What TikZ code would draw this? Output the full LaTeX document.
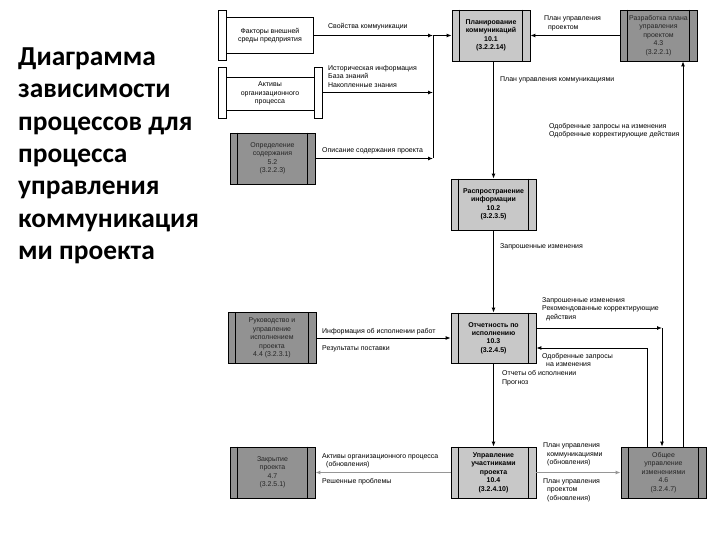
\documentclass[tikz,border=0pt]{standalone}
\usepackage{fontspec}
\setmainfont{Liberation Sans}
\newfontfamily\titlefont{Carlito}
\usetikzlibrary{arrows.meta,positioning}
\definecolor{procdark}{RGB}{146,146,146}
\definecolor{proclight}{RGB}{200,200,200}
\definecolor{flowgray}{RGB}{150,150,150}

\begin{document}
\begin{tikzpicture}[x=1bp,y=-1bp]
  \tikzstyle{proc}=[draw,line width=0.8bp,inner sep=0pt,align=center,
    font=\fontsize{7}{8.5}\selectfont]
  \tikzstyle{light}=[proc,fill=proclight,minimum width=85bp,minimum height=51bp,
    font=\fontsize{7}{8.5}\selectfont\bfseries]
  \tikzstyle{dark}=[proc,fill=procdark,minimum width=85bp,minimum height=51bp,text=black!85]
  \tikzstyle{bar}=[draw,fill=white,line width=0.6bp,minimum width=8bp,inner sep=0pt]
  \tikzstyle{lbl}=[font=\fontsize{7}{8.5}\selectfont,align=left,inner sep=0pt,anchor=west]
  \tikzstyle{line}=[line width=0.9bp]
  \tikzstyle{flow}=[line,-{Latex[length=5bp,width=4bp]}]
  \tikzstyle{upd}=[line width=1.3bp,draw=flowgray,-{Latex[length=5bp,width=4bp]}]
  \useasboundingbox (0,0) rectangle (720,540);

  % Title on the left
  \node[anchor=north west,inner sep=0pt,align=left,
    font=\titlefont\bfseries\fontsize{27.5}{32.5}\selectfont] (title) at (18,47.5)
    {Диаграмма\\зависимости\\процессов для\\процесса\\управления\\коммуникация\\ми проекта};

  % Inputs on the left
  \node[bar,minimum height=50bp] (factorsL) at (222,35) {};
  \node[draw,line width=1.6bp,fill=white,minimum width=87bp,minimum height=36bp,
    inner sep=0pt,align=center,font=\fontsize{7}{8.5}\selectfont] (factors) at (270,35.5)
    {Факторы внешней\\среды предприятия};
  \node[draw,line width=0.8bp,fill=white,minimum width=88bp,minimum height=33bp,
    inner sep=0pt,align=center,font=\fontsize{7}{8.5}\selectfont] (assets) at (270,93.5)
    {Активы\\организационного\\процесса};
  \node[bar,minimum height=51bp] (assetsL) at (222,92.5) {};
  \node[bar,minimum height=51bp] (assetsR) at (318,92.5) {};
  \node[dark] (scope) at (272.5,158.5) {Определение\\содержания\\5.2\\(3.2.2.3)};
  \node[dark,minimum width=88bp] (direct) at (272,338) {Руководство и\\управление\\исполнением\\проекта\\4.4 (3.2.3.1)};
  \node[dark] (close) at (272.5,472.5) {Закрытие\\проекта\\4.7\\(3.2.5.1)};

  % Communication processes in the middle
  \node[light,minimum width=78bp] (plan) at (491,35.5) {Планирование\\коммуникаций\\10.1\\(3.2.2.14)};
  \node[light] (dist) at (493.5,204.5) {Распространение\\информации\\10.2\\(3.2.3.5)};
  \node[light,minimum height=50bp] (report) at (493.5,338) {Отчетность по\\исполнению\\10.3\\(3.2.4.5)};
  \node[light] (stake) at (493.5,472.5) {Управление\\участниками\\проекта\\10.4\\(3.2.4.10)};

  % Integration processes on the right
  \node[dark,minimum width=77bp] (devplan) at (658.5,35.5) {Разработка плана\\управления\\проектом\\4.3\\(3.2.2.1)};
  \node[dark] (change) at (663.5,472.5) {Общее\\управление\\изменениями\\4.6\\(3.2.4.7)};

  % Side strips of every process box
  \foreach \p in {scope,direct,close,plan,dist,report,stake,devplan,change}
    \draw[line width=0.8bp] ([xshift=8bp]\p.north west) -- ([xshift=8bp]\p.south west)
      ([xshift=-8bp]\p.north east) -- ([xshift=-8bp]\p.south east);

  % Helper points for bends
  \coordinate (bustop) at (433,35.5);
  \coordinate (apprx) at (683,0);
  \coordinate (reqturn) at (662,328);
  \coordinate (apprturn) at (647,348);

  % Inputs collected on a bus into 10.1
  \draw[flow] (factors.east) -- (factors.east -| bustop);
  \draw[flow] (assetsR.east) -- (assetsR.east -| bustop);
  \draw[flow] (scope.east) -- (scope.east -| bustop);
  \draw[line] (bustop) -- (bustop |- scope.east);
  \draw[flow] (bustop) -- (plan.west);
  \node[lbl] (lblprops) at (328,27) {Свойства коммуникации};
  \node[lbl] (lblhist) at (328,76.5) {Историческая информация\\База знаний\\Накопленные знания};
  \node[lbl] (lblscope) at (322,151) {Описание содержания проекта};

  % Top row
  \draw[flow] (devplan.west) -- (plan.east);
  \node[lbl] (lblpmp) at (544,23.5) {План управления\\\hspace*{4bp}проектом};
  \draw[flow] (plan.south -| dist.north) -- (dist.north);
  \node[lbl] (lblcmp) at (500,80) {План управления коммуникациями};
  \draw[flow] (change.north -| apprx) -- (apprx |- devplan.south);
  \node[lbl] (lblappr) at (549,130.5) {Одобренные запросы на изменения\\Одобренные корректирующие действия};

  % Middle column
  \draw[flow] (dist.south) -- (report.north);
  \node[lbl] (lblreq) at (500,247) {Запрошенные изменения};
  \draw[flow] (direct.east) -- (report.west);
  \node[lbl] (lblwork) at (322,332) {Информация об исполнении работ};
  \node[lbl] (lbldeliv) at (322,349) {Результаты поставки};
  \draw[flow] (report.east |- reqturn) -- (reqturn);
  \draw[flow] (reqturn) -- (reqturn |- change.north);
  \node[lbl] (lblreq2) at (542,309) {Запрошенные изменения\\Рекомендованные корректирующие\\\hspace*{4bp}действия};
  \draw[line] (apprturn |- change.north) -- (apprturn);
  \draw[flow] (apprturn) -- (apprturn -| report.east);
  \node[lbl] (lblappr2) at (542,360) {Одобренные запросы\\\hspace*{4bp}на изменения};
  \draw[flow] (report.south) -- (stake.north);
  \node[lbl] (lblperf) at (502,378) {Отчеты об исполнении\\Прогноз};

  % Updates along the bottom row
  \draw[upd] (stake.west) -- (close.east);
  \node[lbl] (lblopa) at (322,461) {Активы организационного процесса\\\hspace*{4bp}(обновления)};
  \node[lbl] (lblissues) at (322,482) {Решенные проблемы};
  \draw[upd] (stake.east) -- (change.west);
  \node[lbl] (lblcmpu) at (543,454.5) {План управления\\\hspace*{4bp}коммуникациями\\\hspace*{4bp}(обновления)};
  \node[lbl] (lblpmpu) at (543,490) {План управления\\\hspace*{4bp}проектом\\\hspace*{4bp}(обновления)};
\end{tikzpicture}
\end{document}
